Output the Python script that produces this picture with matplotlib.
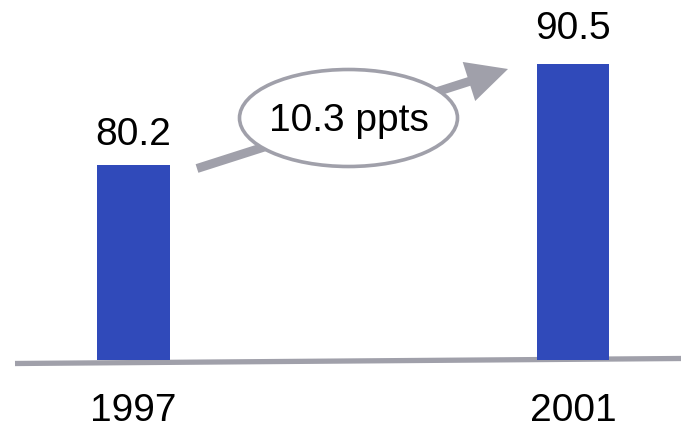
import matplotlib
matplotlib.use("Agg")
import matplotlib.pyplot as plt
from matplotlib.patches import Ellipse, FancyArrow

plt.rcParams['font.family'] = ['Liberation Sans', 'DejaVu Sans']

# Values
years = ['1997', '2001']
share = [80.2, 90.5]
change_label = '10.3 ppts'

BAR_BLUE = '#304ABA'
GREY = '#A0A0AA'

W, H, DPI = 681, 432, 100
fig = plt.figure(figsize=(W / DPI, H / DPI), dpi=DPI)

# bars sit on a truncated value axis (bottom at ~60)
base = 60.3
px_per_unit = 9.806
base_px = 360  # pixel row of the baseline, from top
ax = fig.add_axes([0, (H - base_px) / H, 1, base_px / H])
ax.set_ylim(base, base + base_px / px_per_unit)
ax.set_xlim(-0.3038, 1.2457)

x = range(len(years))
bars = ax.bar(x, [v - base for v in share], bottom=base, width=0.166,
              color=BAR_BLUE, zorder=2)

# value labels above the bars
for b, v, pad in zip(bars, share, [14, 18]):
    ax.annotate(f'{v:.1f}', (b.get_x() + b.get_width() / 2, v),
                xytext=(0, pad), textcoords='offset points',
                ha='center', va='baseline', fontsize=28, color='black')

ax.set_xticks(list(x))
ax.set_xticklabels(years, fontsize=28)
ax.tick_params(axis='x', length=0, pad=24)
ax.set_yticks([])
for s in ax.spines.values():
    s.set_visible(False)
ax.patch.set_alpha(0)

# overlay in pixel units for the baseline, arrow and callout
ov = fig.add_axes([0, 0, 1, 1], zorder=-1)
ov.set_xlim(0, W)
ov.set_ylim(H, 0)
ov.axis('off')

ov.plot([15, W], [363.5, 358.5], color=GREY, lw=3.8, solid_capstyle='butt')

ov2 = fig.add_axes([0, 0, 1, 1], zorder=3)
ov2.set_xlim(0, W)
ov2.set_ylim(H, 0)
ov2.axis('off')
ov2.patch.set_alpha(0)

tail = (197, 168.5)
tip = (508, 69)
ov2.add_patch(FancyArrow(tail[0], tail[1], tip[0] - tail[0], tip[1] - tail[1],
                         width=9, head_width=41, head_length=41,
                         length_includes_head=True, color=GREY, lw=0))
ov2.add_patch(Ellipse((348.5, 118), 218, 97, facecolor='white',
                      edgecolor=GREY, lw=2.6, zorder=4))
ov2.text(348.5, 121, change_label, ha='center', va='center',
         fontsize=28, color='black', zorder=5)

fig.savefig('out.png', dpi=DPI)
